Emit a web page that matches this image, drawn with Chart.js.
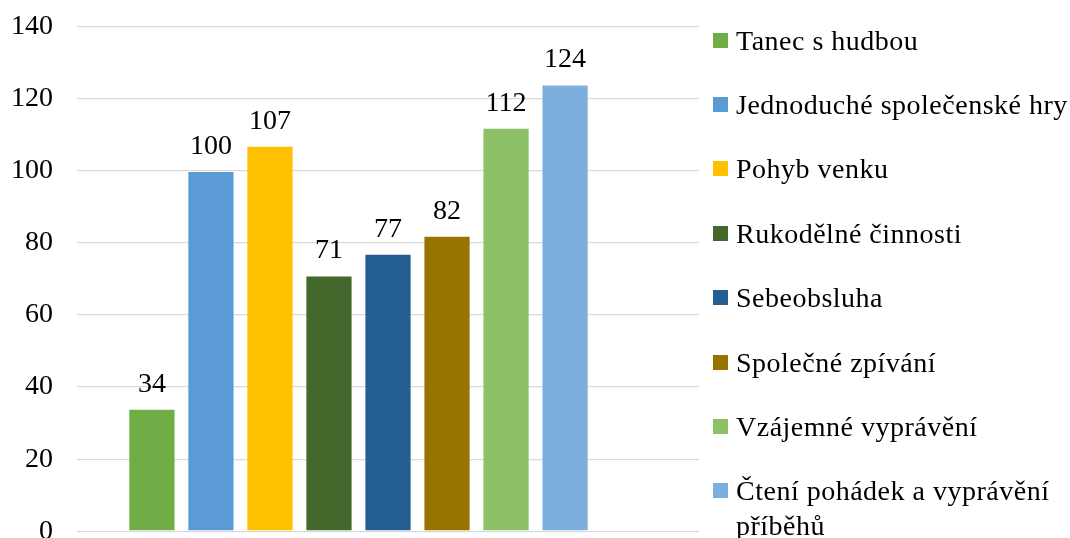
<!DOCTYPE html>
<html>
<head>
<meta charset="utf-8">
<script src="https://cdn.jsdelivr.net/npm/chart.js@4.4.0/dist/chart.umd.min.js"></script>
<style>
  html, body { margin: 0; padding: 0; background: #fff; overflow: hidden; }
  #wrap { position: relative; width: 1070px; height: 538px; overflow: hidden; }
  #box { position: absolute; left: 0; top: -14px; width: 1070px; height: 586px; }
  #legend { position: absolute; left: 713px; top: 0; font-family: "Liberation Serif", "Times New Roman", serif; font-size: 28px; letter-spacing: 0.5px; color: #000; }
  .item { position: absolute; left: 0; display: flex; align-items: flex-start; line-height: 35px; }
  .sw { width: 15px; height: 15px; margin-top: 10px; margin-right: 8px; flex: none; }
  .txt { width: 345px; white-space: normal; }
</style>
</head>
<body>
<div id="wrap">
  <div id="box"><canvas id="mycanvas"></canvas></div>
  <div id="legend"></div>
</div>
<script>
var labels = ["Tanec s hudbou", "Jednoduché společenské hry", "Pohyb venku", "Rukodělné činnosti",
              "Sebeobsluha", "Společné zpívání", "Vzájemné vyprávění", "Čtení pohádek a vyprávění příběhů"];
var values = [34, 100, 107, 71, 77, 82, 112, 124];
var colors = ["#70AD47", "#5B9BD5", "#FFC000", "#43682B", "#255E91", "#997300", "#8CC168", "#7CAFDD"];
var yTicks = [0, 20, 40, 60, 80, 100, 120, 140];

var datasets = [];
for (var i in labels) {
  datasets.push({
    label: labels[i],
    data: [values[i]],
    backgroundColor: colors[i],
    borderColor: "rgba(255,255,255,0.45)",
    borderWidth: 1
  });
}
// empty slot, Excel leaves room on the right
datasets.push({ label: "", data: [null], backgroundColor: "rgba(0,0,0,0)" });

var valueLabels = {
  id: "valueLabels",
  afterDatasetsDraw: function(chart) {
    var ctx = chart.ctx;
    ctx.save();
    ctx.font = "28px 'Liberation Serif', 'Times New Roman', serif";
    ctx.fillStyle = "#000";
    ctx.textAlign = "center";
    ctx.textBaseline = "alphabetic";
    chart.data.datasets.forEach(function(ds, di) {
      var meta = chart.getDatasetMeta(di);
      meta.data.forEach(function(bar, j) {
        if (ds.data[j] == null) return;
        ctx.fillText(ds.data[j], bar.x, bar.y - 17);
      });
    });
    ctx.restore();
  }
};

var ctx = document.getElementById("mycanvas");
var chart = new Chart(ctx, {
  type: "bar",
  data: { labels: [""], datasets: datasets },
  options: {
    responsive: true,
    maintainAspectRatio: false,
    animation: false,
    layout: { padding: { left: 10, right: 371, top: 12, bottom: 18 } },
    datasets: { bar: { categoryPercentage: 0.854, barPercentage: 0.8 } },
    plugins: { legend: { display: false }, tooltip: { enabled: false } },
    scales: {
      x: { display: false },
      y: {
        min: 0,
        max: 140,
        afterBuildTicks: function(axis) {
          axis.ticks = yTicks.map(function(v) { return { value: v }; });
        },
        afterFit: function(axis) { axis.width = 67; },
        border: { display: false },
        grid: { color: "#d9d9d9", lineWidth: 1.2, tickLength: 0, drawTicks: false },
        ticks: {
          padding: 24,
          color: "#000",
          font: { family: "'Liberation Serif', 'Times New Roman', serif", size: 28 }
        }
      }
    }
  },
  plugins: [valueLabels]
});

// legend on the right
var leg = document.getElementById("legend");
for (var k in labels) {
  var it = document.createElement("div");
  it.className = "item";
  it.style.top = Math.round(40 + 64.4 * k - 17.5) + "px";
  var sw = document.createElement("span");
  sw.className = "sw";
  sw.style.background = colors[k];
  var tx = document.createElement("span");
  tx.className = "txt";
  tx.textContent = labels[k];
  it.appendChild(sw);
  it.appendChild(tx);
  leg.appendChild(it);
}
</script>
</body>
</html>
